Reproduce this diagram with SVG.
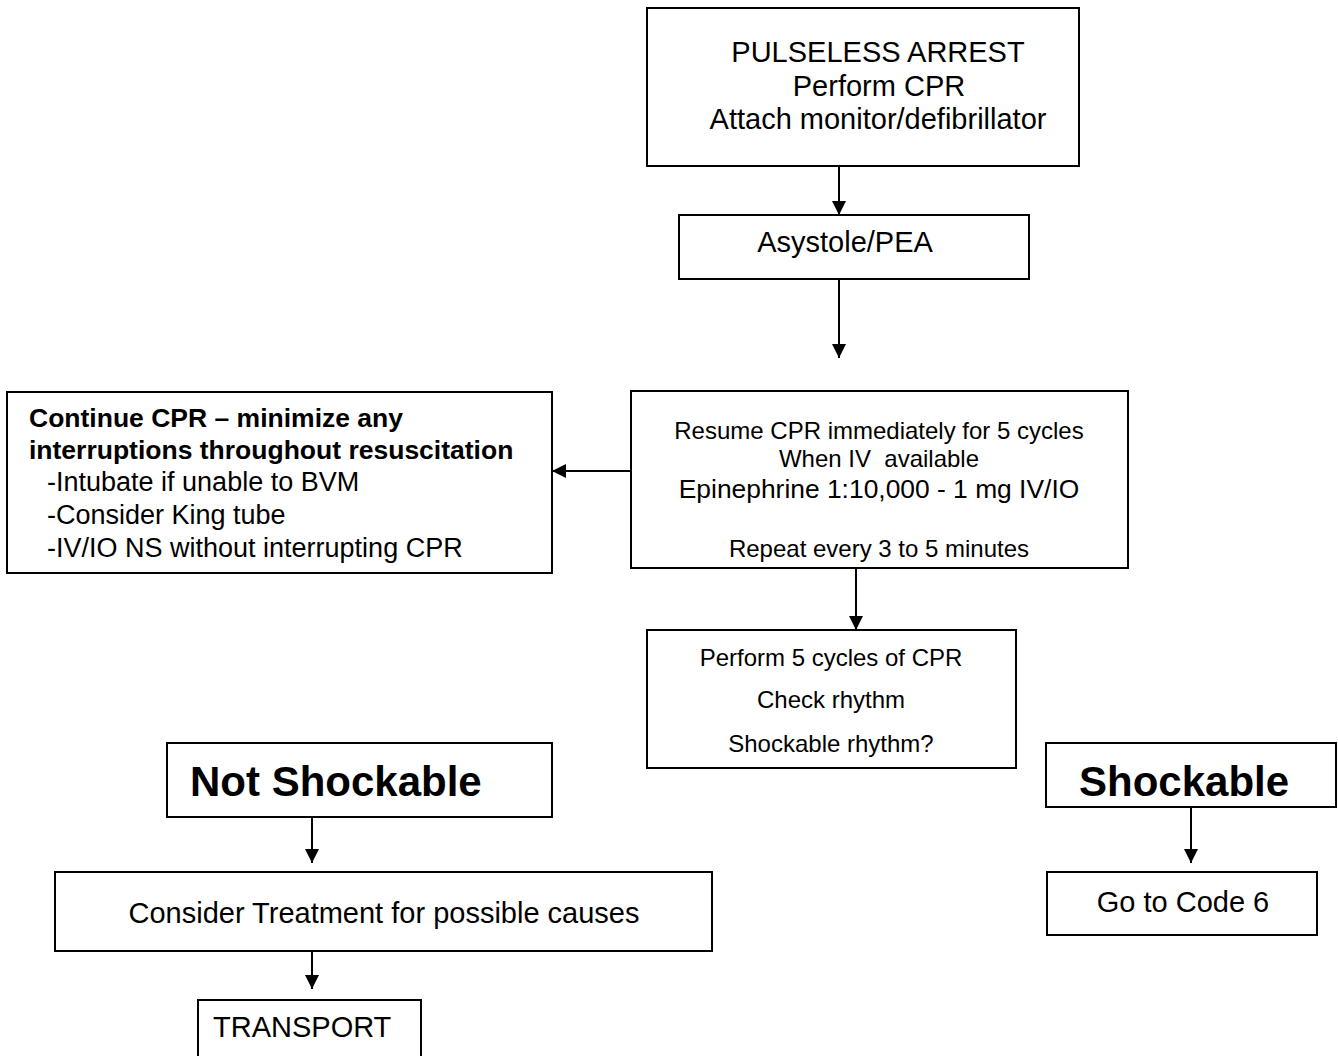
<svg xmlns="http://www.w3.org/2000/svg" width="1338" height="1056" viewBox="0 0 1338 1056">
  <style>
    .box { fill: #ffffff; stroke: #000000; stroke-width: 2; }
    .link { stroke: #000000; stroke-width: 2; fill: none; marker-end: url(#arrow); }
    text { font-family: "Liberation Sans", Arial, sans-serif; fill: #000000; }
    .big { font-size: 29px; }
    .mid { font-size: 24px; }
    .epi { font-size: 26.4px; }
    .bold { font-weight: bold; font-size: 26.5px; }
    .sub { font-size: 27px; }
    .head { font-weight: bold; font-size: 42px; }
    .c { text-anchor: middle; }
  </style>
  <defs>
    <marker id="arrow" markerUnits="userSpaceOnUse" markerWidth="14" markerHeight="16" viewBox="0 0 14 16" refX="14" refY="8" orient="auto">
      <path d="M0,1 L14,8 L0,15 Z" fill="#000000"/>
    </marker>
  </defs>
  <rect width="1338" height="1056" fill="#ffffff"/>

  <g id="connectors">
    <line class="link" x1="839" y1="166" x2="839" y2="215"/>
    <line class="link" x1="839" y1="279" x2="839" y2="358"/>
    <line class="link" x1="631" y1="471" x2="552" y2="471"/>
    <line class="link" x1="856" y1="568" x2="856" y2="630"/>
    <line class="link" x1="312" y1="817" x2="312" y2="863"/>
    <line class="link" x1="312" y1="951" x2="312" y2="989"/>
    <line class="link" x1="1191" y1="807" x2="1191" y2="863"/>
  </g>

  <g id="pulseless-arrest">
    <rect class="box" x="647" y="8" width="432" height="158"/>
    <text class="big c" x="878" y="62">PULSELESS ARREST</text>
    <text class="big c" x="879" y="96">Perform CPR</text>
    <text class="big c" x="878" y="129">Attach monitor/defibrillator</text>
  </g>

  <g id="asystole-pea">
    <rect class="box" x="679" y="215" width="350" height="64"/>
    <text class="big c" x="845" y="252">Asystole/PEA</text>
  </g>

  <g id="resume-cpr">
    <rect class="box" x="631" y="391" width="497" height="177"/>
    <text class="mid c" x="879" y="439">Resume CPR immediately for 5 cycles</text>
    <text class="mid c" x="879" y="467" xml:space="preserve">When IV  available</text>
    <text class="epi c" x="879" y="498">Epinephrine 1:10,000 - 1 mg IV/IO</text>
    <text class="mid c" x="879" y="557">Repeat every 3 to 5 minutes</text>
  </g>

  <g id="continue-cpr">
    <rect class="box" x="7" y="392" width="545" height="181"/>
    <text class="bold" x="29" y="427">Continue CPR – minimize any</text>
    <text class="bold" x="29" y="459">interruptions throughout resuscitation</text>
    <text class="sub" x="47" y="491">-Intubate if unable to BVM</text>
    <text class="sub" x="47" y="524">-Consider King tube</text>
    <text class="sub" x="47" y="557">-IV/IO NS without interrupting CPR</text>
  </g>

  <g id="check-rhythm">
    <rect class="box" x="647" y="630" width="369" height="138"/>
    <text class="mid c" x="831" y="666">Perform 5 cycles of CPR</text>
    <text class="mid c" x="831" y="708">Check rhythm</text>
    <text class="mid c" x="831" y="752">Shockable rhythm?</text>
  </g>

  <g id="not-shockable">
    <rect class="box" x="167" y="743" width="385" height="74"/>
    <text class="head" x="190" y="796">Not Shockable</text>
  </g>

  <g id="consider-treatment">
    <rect class="box" x="55" y="872" width="657" height="79"/>
    <text class="big c" x="384" y="923">Consider Treatment for possible causes</text>
  </g>

  <g id="transport">
    <rect class="box" x="198" y="1000" width="223" height="70"/>
    <text class="big" x="213" y="1037">TRANSPORT</text>
  </g>

  <g id="shockable">
    <rect class="box" x="1046" y="743" width="290" height="64"/>
    <text class="head" x="1079" y="796">Shockable</text>
  </g>

  <g id="go-to-code-6">
    <rect class="box" x="1047" y="872" width="270" height="63"/>
    <text class="big c" x="1183" y="912">Go to Code 6</text>
  </g>
</svg>
